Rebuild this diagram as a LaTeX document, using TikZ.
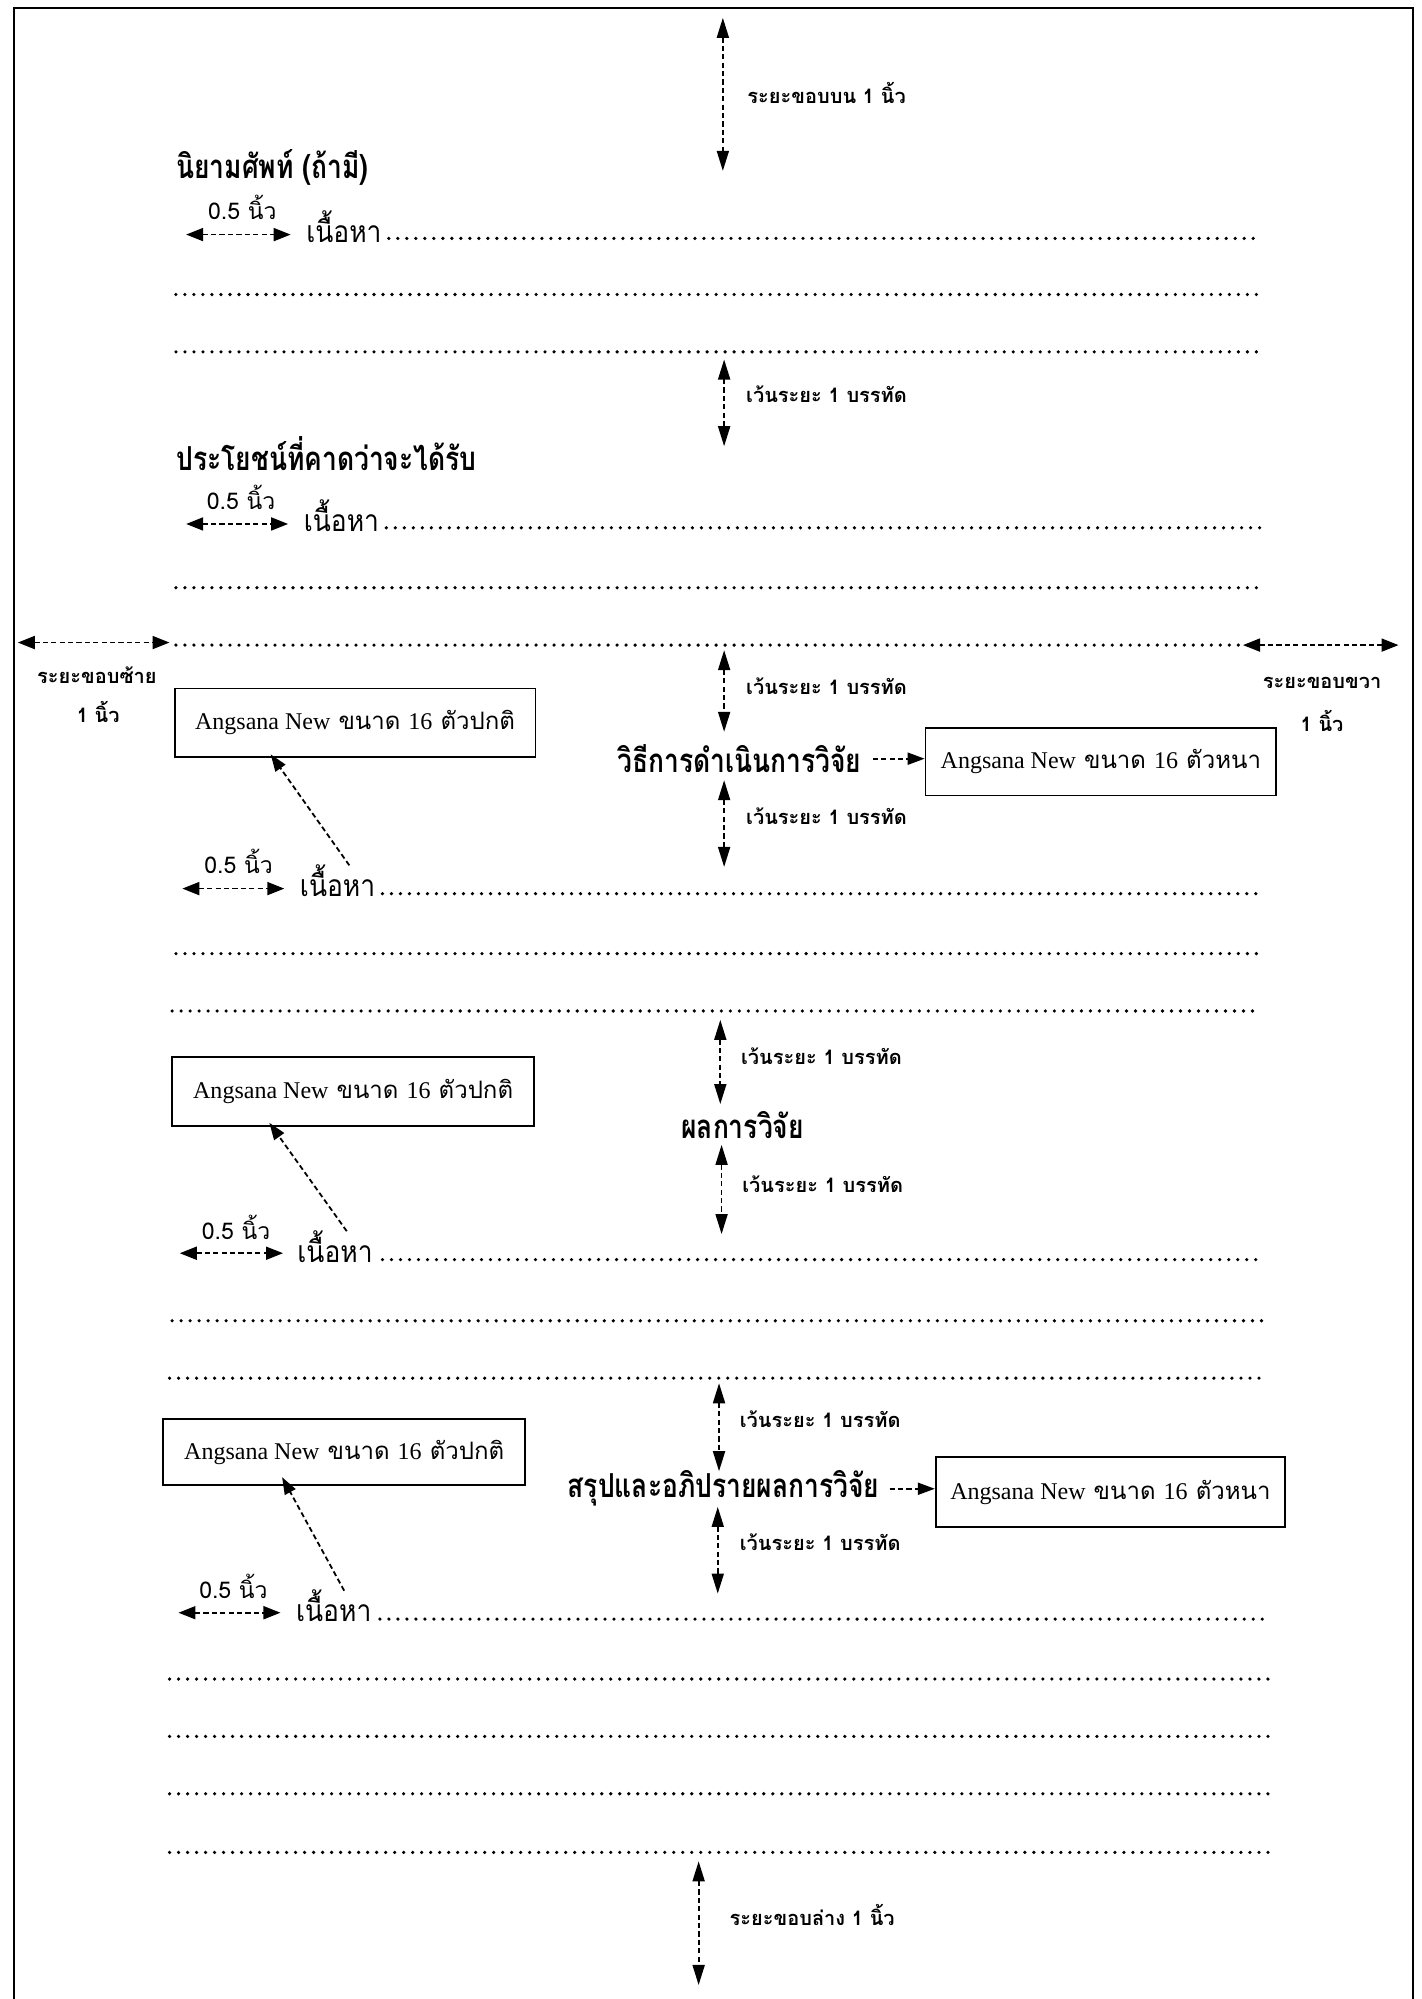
\documentclass[tikz,border=0pt]{standalone}
\usepackage{fontspec}
\usetikzlibrary{arrows.meta,calc}
\setmainfont[Script=Thai]{Loma}
\newfontfamily\headfont[Script=Thai,FakeStretch=0.8]{Loma}
\newfontfamily\bodyfont[Script=Thai,FakeStretch=0.88]{Loma}
\newfontfamily\latserif{Liberation Serif}
\newcommand\normalspec{{\latserif Angsana New} ขนาด {\latserif 16} ตัวปกติ}
\newcommand\boldspec{{\latserif Angsana New} ขนาด {\latserif 16} ตัวหนา}
\tikzset{
  heading/.style={font=\headfont\fontsize{16.5}{18}\selectfont\bfseries, inner sep=0pt, anchor=base west},
  bodytxt/.style={font=\bodyfont\fontsize{15}{17}\selectfont, inner sep=0pt, anchor=base west},
  halftxt/.style={font=\fontsize{11.5}{13}\selectfont, inner sep=0pt, anchor=base west},
  lbl/.style={font=\fontsize{10}{12}\selectfont\bfseries, inner sep=0pt, anchor=base west},
  lblc/.style={font=\fontsize{10}{12}\selectfont\bfseries, inner sep=0pt, anchor=base},
  fmtbox/.style={draw, line width=0.9pt, inner sep=0pt, font=\fontsize{12}{14}\selectfont},
  dotrow/.style={line width=1.8pt, line cap=round, dash pattern=on 0pt off 4.5pt},
  dimarrow/.style={line width=0.9pt, dash pattern=on 2.6pt off 1.6pt, {Triangle[length=8.5pt,width=6.5pt]}-{Triangle[length=8.5pt,width=6.5pt]}},
  vdim/.style={line width=0.9pt, dash pattern=on 2.6pt off 1.6pt, {Triangle[length=10pt,width=6pt]}-{Triangle[length=10pt,width=6pt]}},
  pointer/.style={line width=0.9pt, dash pattern=on 2.6pt off 1.6pt, -{Triangle[length=8.5pt,width=6pt]}},
  border/.style={line width=1pt}
}
\begin{document}
\begin{tikzpicture}[x=0.6372pt,y=-0.6372pt]
\useasboundingbox (0,0) rectangle (1115,1568);
% page border
\draw[border] (11,1568) -- (11,6) -- (1108,6) -- (1108,1568);

% top margin
\coordinate (tm1) at (567,14); \coordinate (tm2) at (567,134);
\draw[vdim] (tm1) -- (tm2);
\node[lbl] (ltop) at (586,81) {ระยะขอบบน 1 นิ้ว};

% section 1
\node[heading] (h1) at (138,140) {นิยามศัพท์ (ถ้ามี)};
\node[halftxt] (q1) at (163,172) {0.5 นิ้ว};
\coordinate (a1l) at (146,184); \coordinate (a1r) at (228,184);
\draw[dimarrow] (a1l) -- (a1r);
\node[bodytxt] (c1) at (240,190) {เนื้อหา};
\draw[dotrow] (305,187) -- (990,187);
\draw[dotrow] (138,231) -- (990,231);
\draw[dotrow] (138,276) -- (990,276);
\coordinate (s1a) at (568,282); \coordinate (s1b) at (568,350);
\draw[vdim] (s1a) -- (s1b);
\node[lbl] (l1) at (585,316) {เว้นระยะ 1 บรรทัด};

% section 2
\node[heading] (h2) at (138,369) {ประโยชน์ที่คาดว่าจะได้รับ};
\node[halftxt] (q2) at (162,400) {0.5 นิ้ว};
\coordinate (a2l) at (146,411); \coordinate (a2r) at (226,411);
\draw[dimarrow] (a2l) -- (a2r);
\node[bodytxt] (c2) at (238,417) {เนื้อหา};
\draw[dotrow] (303,414) -- (990,414);
\draw[dotrow] (138,461) -- (990,461);
\draw[dotrow] (138,506) -- (972,506);

% left / right margins
\coordinate (lm1) at (14,504); \coordinate (lm2) at (133,504);
\draw[dimarrow] (lm1) -- (lm2);
\node[lblc] (lml) at (76,536) {ระยะขอบซ้าย};
\node[lblc] (lmv) at (77,567) {1 นิ้ว};
\coordinate (rm1) at (975,506); \coordinate (rm2) at (1097,506);
\draw[dimarrow] (rm1) -- (rm2);
\node[lblc] (rml) at (1037,540) {ระยะขอบขวา};
\node[lblc] (rmv) at (1037,574) {1 นิ้ว};

% section 3
\coordinate (s2a) at (568,510); \coordinate (s2b) at (568,574);
\draw[vdim] (s2a) -- (s2b);
\node[lbl] (l2) at (585,545) {เว้นระยะ 1 บรรทัด};
\node[fmtbox, minimum width=180.3pt, minimum height=34.4pt] (bx1) at (278.5,567) {\normalspec};
\node[heading, anchor=base] (h3) at (580,606) {วิธีการดำเนินการวิจัย};
\node[fmtbox, minimum width=175.2pt, minimum height=33.8pt] (bb1) at (863.5,597.5) {\boldspec};
\draw[pointer] ([xshift=5.5pt]h3.east) -- (h3.east -| bb1.west);
\coordinate (s3a) at (568,612); \coordinate (s3b) at (568,680);
\draw[vdim] (s3a) -- (s3b);
\node[lbl] (l3) at (585,647) {เว้นระยะ 1 บรรทัด};
\node[halftxt] (q3) at (160,685) {0.5 นิ้ว};
\coordinate (a3l) at (143,697); \coordinate (a3r) at (223,697);
\draw[dimarrow] (a3l) -- (a3r);
\node[bodytxt] (c3) at (235,703) {เนื้อหา};
\draw[pointer] ($(c3.north west)+(39,1)$) -- ($(bx1.south west)+(76,-3)$);
\draw[dotrow] (300,701) -- (988,701);
\draw[dotrow] (138,748) -- (988,748);
\draw[dotrow] (135,793) -- (988,793);

% section 4
\coordinate (s4a) at (565,800); \coordinate (s4b) at (565,866);
\draw[vdim] (s4a) -- (s4b);
\node[lbl] (l4) at (581,835) {เว้นระยะ 1 บรรทัด};
\node[fmtbox, minimum width=181pt, minimum height=34.4pt] (bx2) at (277,856) {\normalspec};
\node[heading, anchor=base] (h4) at (582.5,893) {ผลการวิจัย};
\coordinate (s5a) at (566,898); \coordinate (s5b) at (566,968);
\draw[vdim] (s5a) -- (s5b);
\node[lbl] (l5) at (582,935) {เว้นระยะ 1 บรรทัด};
\node[halftxt] (q4) at (158,972) {0.5 นิ้ว};
\coordinate (a4l) at (141,983); \coordinate (a4r) at (222,983);
\draw[dimarrow] (a4l) -- (a4r);
\node[bodytxt] (c4) at (233,990) {เนื้อหา};
\draw[pointer] ($(c4.north west)+(39,1)$) -- ($(bx2.south west)+(77,-3)$);
\draw[dotrow] (300,988) -- (990,988);
\draw[dotrow] (135,1036) -- (990,1036);
\draw[dotrow] (133,1081) -- (990,1081);

% section 5
\coordinate (s6a) at (564,1085); \coordinate (s6b) at (564,1154);
\draw[vdim] (s6a) -- (s6b);
\node[lbl] (l6) at (580,1120) {เว้นระยะ 1 บรรทัด};
\node[fmtbox, minimum width=181pt, minimum height=33.1pt] (bx3) at (270,1139) {\normalspec};
\node[heading, anchor=base] (h5) at (567.5,1175) {สรุปและอภิปรายผลการวิจัย};
\node[fmtbox, minimum width=174.6pt, minimum height=35pt] (bb2) at (871,1170.5) {\boldspec};
\draw[pointer] ([xshift=5pt]h5.east) -- (h5.east -| bb2.west);
\coordinate (s7a) at (563,1182); \coordinate (s7b) at (563,1250);
\draw[vdim] (s7a) -- (s7b);
\node[lbl] (l7) at (580,1216) {เว้นระยะ 1 บรรทัด};
\node[halftxt] (q5) at (156,1254) {0.5 นิ้ว};
\coordinate (a5l) at (140,1265); \coordinate (a5r) at (220,1265);
\draw[dimarrow] (a5l) -- (a5r);
\node[bodytxt] (c5) at (232,1272) {เนื้อหา};
\draw[pointer] ($(c5.north west)+(38,1)$) -- ($(bx3.south west)+(94,-7)$);
\draw[dotrow] (298,1270) -- (995,1270);
\draw[dotrow] (133,1317) -- (995,1317);
\draw[dotrow] (133,1362) -- (995,1362);
\draw[dotrow] (133,1407) -- (995,1407);
\draw[dotrow] (133,1453) -- (995,1453);

% bottom margin
\coordinate (bm1) at (548,1460); \coordinate (bm2) at (548,1557);
\draw[vdim] (bm1) -- (bm2);
\node[lbl] (lbot) at (572,1510) {ระยะขอบล่าง 1 นิ้ว};
\end{tikzpicture}
\end{document}
